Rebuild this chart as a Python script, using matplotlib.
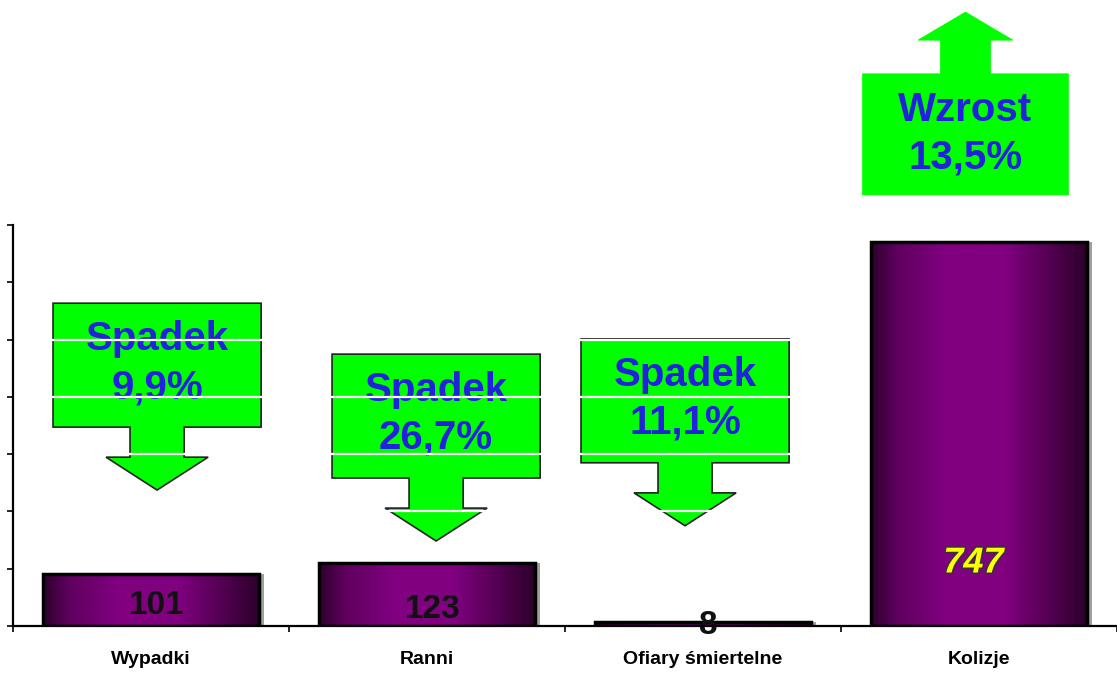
import numpy as np
import matplotlib.pyplot as plt
from matplotlib.colors import LinearSegmentedColormap
from matplotlib.patches import Polygon
import matplotlib.transforms as mtransforms
import matplotlib.patheffects as pe

plt.rcParams['font.family'] = ['Liberation Sans', 'DejaVu Sans']

# data
categories = ['Wypadki', 'Ranni', 'Ofiary śmiertelne', 'Kolizje']
values = [101, 123, 8, 747]
change_word = ['Spadek', 'Spadek', 'Spadek', 'Wzrost']
change_pct = [9.9, 26.7, 11.1, 13.5]

# layout of labels / callouts (axes fraction for y, category units for x)
value_label_y = [0.052, 0.040, 0.0, 0.157]
callout_dx = [0.022, 0.033, -0.065, -0.049]
callout_top = [0.805, 0.678, 0.716, 1.377]

fig = plt.figure(figsize=(11.17, 6.73), dpi=100)
ax = fig.add_axes([13/1117, 47/673, 1104/1117, 401/673])

ymax = 780
x = np.arange(len(categories))
ax.set_xlim(-0.5, len(categories) - 0.5)
ax.set_ylim(0, ymax)

blend = mtransforms.blended_transform_factory(ax.transData, ax.transAxes)

# green arrow callouts
green = '#00ff00'
for i in range(len(categories)):
    xc = x[i] + callout_dx[i]
    top = callout_top[i]
    if change_word[i] == 'Spadek':
        hw, shw, hhw = 0.377, 0.098, 0.185
        bot = top - 0.309
        sb = bot - 0.075
        tip = sb - 0.082
        verts = [(xc - hw, top), (xc + hw, top), (xc + hw, bot), (xc + shw, bot),
                 (xc + shw, sb), (xc + hhw, sb), (xc, tip), (xc - hhw, sb),
                 (xc - shw, sb), (xc - shw, bot), (xc - hw, bot)]
        ec, lw = '#222222', 1.2
    else:
        hw, shw, hhw = 0.373, 0.091, 0.172
        bot = top - 0.302
        st = top + 0.084
        tip = st + 0.07
        verts = [(xc - hw, bot), (xc + hw, bot), (xc + hw, top), (xc + shw, top),
                 (xc + shw, st), (xc + hhw, st), (xc, tip), (xc - hhw, st),
                 (xc - shw, st), (xc - shw, top), (xc - hw, top)]
        ec, lw = green, 0.5
    poly = Polygon(verts, closed=True, facecolor=green, edgecolor=ec, lw=lw,
                   transform=blend, clip_on=False, zorder=1)
    ax.add_patch(poly)
    pct = ('%.1f%%' % change_pct[i]).replace('.', ',')
    ax.text(xc, top - 0.09, change_word[i], transform=blend, ha='center', va='center',
            fontsize=29, fontweight='bold', color='#2222dd', zorder=1.2, clip_on=False)
    ax.text(xc, top - 0.209, pct, transform=blend, ha='center', va='center',
            fontsize=29, fontweight='bold', color='#2222dd', zorder=1.2, clip_on=False)

# white gridlines over the callouts
yt = np.linspace(0, ymax, 8)
ax.set_yticks(yt)
ax.set_yticklabels([])
ax.grid(axis='y', color='white', lw=1.6)
ax.set_axisbelow(False)

# bars with purple gradient
cmap = LinearSegmentedColormap.from_list('purp', ['#2e002c', '#800080', '#800080', '#2e002c'],
                                         N=256)
grad = np.linspace(0, 1, 256).reshape(1, -1)
grad = np.interp(grad, [0, 0.12, 0.45, 0.55, 1], [0, 0.2, 0.4, 0.6, 1])
width = 0.78
shadow = ax.bar(x + 0.02, values, width, color='#a0a0a0', zorder=2.8)
bars = ax.bar(x, values, width, color='none', edgecolor='black', lw=2.5, zorder=4)
for b in bars:
    x0 = b.get_x()
    im = ax.imshow(grad, extent=[x0, x0 + b.get_width(), 0, b.get_height()],
                   aspect='auto', cmap=cmap, zorder=3)
    im.set_clip_path(b)
ax.set_xlim(-0.5, len(categories) - 0.5)
ax.set_ylim(0, ymax)

# value labels
for i, v in enumerate(values):
    if v > 500:
        ax.text(x[i] - 0.02, value_label_y[i], str(v), transform=blend, ha='center', va='center',
                fontsize=26, fontweight='bold', fontstyle='italic', color='#ffff00', zorder=5,
                path_effects=[pe.withStroke(linewidth=2, foreground='#333333')])
    else:
        ax.text(x[i] + 0.02, value_label_y[i], str(v), transform=blend, ha='center', va='center',
                fontsize=24, fontweight='bold', color='#111111', zorder=5, clip_on=False)

# axes styling
for s in ['top', 'right']:
    ax.spines[s].set_visible(False)
for s in ['left', 'bottom']:
    ax.spines[s].set_linewidth(1.6)
    ax.spines[s].set_zorder(5)
ax.tick_params(axis='y', direction='out', length=4, width=1.2)
ax.set_xticks(x)
ax.set_xticklabels(categories, fontsize=14, fontweight='bold')
ax.set_xticks(np.arange(-0.5, len(categories)), minor=True)
ax.tick_params(axis='x', which='major', length=0, pad=18)
ax.tick_params(axis='x', which='minor', direction='out', length=4, width=1.2)

fig.savefig('out.png', dpi=100)
